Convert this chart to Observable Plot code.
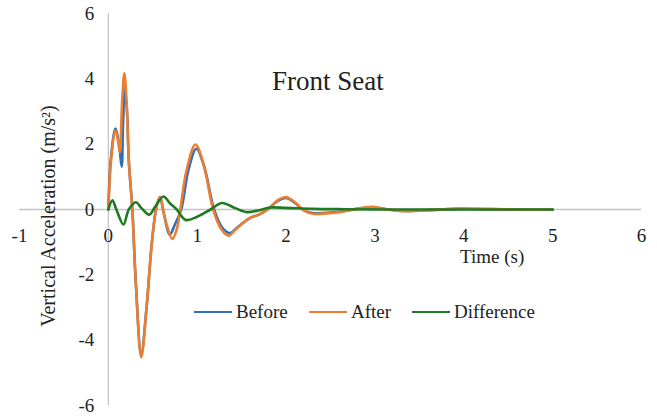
<!DOCTYPE html>
<html>
<head>
<meta charset="utf-8">
<script src="https://cdn.jsdelivr.net/npm/d3@7"></script>
<script src="https://cdn.jsdelivr.net/npm/@observablehq/plot@0.6"></script>
<style>
  html, body { margin: 0; padding: 0; background: #fff; }
  #wrap { position: relative; width: 657px; height: 419px; font-family: "Liberation Serif", "Times New Roman", serif; color: #222; }
  #wrap svg { position: absolute; left: 0; top: 0; }
  #wrap svg text { font-family: "Liberation Serif", "Times New Roman", serif; }
  .ov { position: absolute; white-space: nowrap; line-height: 1; font-family: "Liberation Serif", "Times New Roman", serif; }
  .leg { position: absolute; height: 0; border-top: 2.5px solid; }
</style>
</head>
<body>
<div id="wrap"></div>
<script>
// ---- data ----
const beforeT = [0, 0.03, 0.08, 0.12, 0.15, 0.165, 0.185, 0.21, 0.23, 0.27, 0.31, 0.37, 0.43, 0.49, 0.54, 0.58, 0.63, 0.69, 0.75, 0.82, 0.9, 0.99, 1.08, 1.19, 1.28, 1.37, 1.45, 1.52, 1.6, 1.7, 1.8, 1.9, 2.0, 2.1, 2.2, 2.3, 2.45, 2.6, 2.8, 2.97, 3.15, 3.3, 3.6, 3.95, 4.3, 4.6, 5];
const beforeV = [0, 1.6, 2.48, 2.0, 1.31, 2.6, 3.72, 3.0, 1.5, 0, -2.3, -4.45, -3.0, -1.0, 0.05, 0.38, -0.2, -0.78, -0.45, 0, 1.2, 1.86, 1.3, 0, -0.55, -0.72, -0.55, -0.4, -0.25, -0.15, 0.02, 0.25, 0.35, 0.2, -0.03, -0.11, -0.1, -0.07, 0.02, 0.06, 0.0, -0.04, -0.02, 0.02, 0.01, 0.0, 0.0];

const afterT = [0, 0.03, 0.08, 0.115, 0.13, 0.155, 0.18, 0.205, 0.23, 0.27, 0.31, 0.37, 0.43, 0.49, 0.54, 0.58, 0.64, 0.72, 0.77, 0.81, 0.88, 0.98, 1.07, 1.18, 1.27, 1.35, 1.43, 1.5, 1.6, 1.7, 1.8, 1.9, 2.0, 2.1, 2.2, 2.3, 2.45, 2.6, 2.8, 2.97, 3.15, 3.3, 3.6, 3.95, 4.3, 4.6, 5];
const afterV = [0, 1.5, 2.42, 2.0, 1.75, 3.3, 4.17, 3.3, 1.5, 0, -2.3, -4.52, -3.0, -1.0, 0.05, 0.38, -0.3, -0.9, -0.6, 0, 1.2, 1.99, 1.4, 0, -0.6, -0.8, -0.62, -0.45, -0.25, -0.15, 0.02, 0.27, 0.38, 0.22, -0.03, -0.13, -0.12, -0.08, 0.02, 0.08, 0.0, -0.05, -0.02, 0.03, 0.01, 0.0, 0.0];

const diffT = [0, 0.045, 0.09, 0.17, 0.23, 0.31, 0.37, 0.46, 0.53, 0.62, 0.69, 0.77, 0.87, 1.0, 1.15, 1.28, 1.42, 1.56, 1.7, 1.82, 2.0, 2.3, 2.6, 3.0, 4.0, 5];
const diffV = [0, 0.28, 0.0, -0.46, 0.0, 0.22, 0.05, -0.16, 0.1, 0.4, 0.2, 0.0, -0.32, -0.22, 0.0, 0.2, 0.05, -0.08, -0.02, 0.06, 0.05, 0.02, 0.01, 0.0, 0.0, 0.0];

const seriesNames = ["Before", "After", "Difference"];
const seriesColors = ["#2e6fb7", "#ed7d31", "#1f7a24"];

const xTicks = [-1, 0, 1, 2, 3, 4, 5, 6];
const yTicks = [-6, -4, -2, 0, 2, 4, 6];

const chartTitle = "Front Seat";
const xTitle = "Time (s)";
const yTitle = "Vertical Acceleration (m/s²)";

// ---- build tables ----
const toRows = (T, V, s) => T.map((t, i) => ({t, v: V[i], series: s}));
const rowsBefore = toRows(beforeT, beforeV, seriesNames[0]);
const rowsAfter = toRows(afterT, afterV, seriesNames[1]);
const rowsDiff = toRows(diffT, diffV, seriesNames[2]);

const font = '"Liberation Serif", "Times New Roman", serif';
const axisGray = "#c4c4c4";

const chart = Plot.plot({
  width: 657,
  height: 419,
  marginLeft: 19,
  marginRight: 16,
  marginTop: 13,
  marginBottom: 14,
  x: {domain: [-1, 6], axis: null},
  y: {domain: [-6, 6], axis: null},
  color: {domain: seriesNames, range: seriesColors},
  style: {fontFamily: font, background: "white"},
  marks: [
    Plot.ruleY([0], {x1: -1, x2: 6, stroke: axisGray, strokeWidth: 1.3}),
    Plot.ruleX([0], {y1: -6, y2: 6, stroke: axisGray, strokeWidth: 1.3}),
    Plot.text(yTicks, {x: 0, y: d => d, text: d => String(d), dx: -14, textAnchor: "end", fontSize: 19, fontFamily: font, fill: "#222"}),
    Plot.text(xTicks, {x: d => d, y: 0, text: d => String(d), dy: 26, fontSize: 19, fontFamily: font, fill: "#222"}),
    Plot.line(rowsBefore, {x: "t", y: "v", stroke: "series", strokeWidth: 2.6, curve: "catmull-rom"}),
    Plot.line(rowsAfter, {x: "t", y: "v", stroke: "series", strokeWidth: 2.6, curve: "catmull-rom"}),
    Plot.line(rowsDiff, {x: "t", y: "v", stroke: "series", strokeWidth: 2.6, curve: "catmull-rom"})
  ]
});

const wrap = document.getElementById("wrap");
wrap.appendChild(chart);

function overlay(text, left, top, size, extra) {
  const d = document.createElement("div");
  d.className = "ov";
  d.textContent = text;
  d.style.left = left + "px";
  d.style.top = top + "px";
  d.style.fontSize = size + "px";
  if (extra) Object.assign(d.style, extra);
  wrap.appendChild(d);
  return d;
}

// Title
overlay(chartTitle, 272, 68, 27);
// X axis title
overlay(xTitle, 460, 247, 19);
// Y axis title (rotated)
overlay(yTitle, 48, 216, 20, {transform: "translate(-50%, -50%) rotate(-90deg)", transformOrigin: "center"});

// Legend
const legendItems = [
  {x1: 194, x2: 232, tx: 236},
  {x1: 309, x2: 347, tx: 351},
  {x1: 412, x2: 450, tx: 454}
];
seriesNames.forEach((name, i) => {
  const it = legendItems[i];
  const l = document.createElement("div");
  l.className = "leg";
  l.style.left = it.x1 + "px";
  l.style.width = (it.x2 - it.x1) + "px";
  l.style.top = "311px";
  l.style.borderTopColor = seriesColors[i];
  wrap.appendChild(l);
  overlay(name, it.tx, 302, 19);
});
</script>
</body>
</html>
